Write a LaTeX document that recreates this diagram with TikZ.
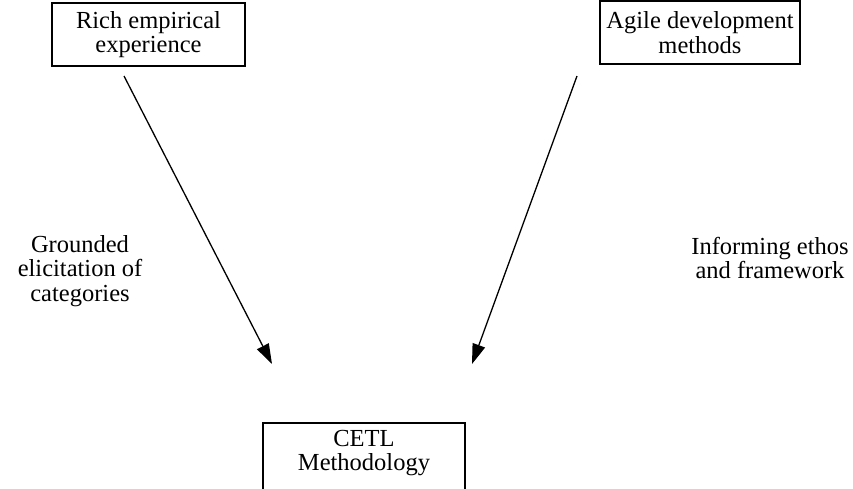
\documentclass[tikz,border=0pt]{standalone}
\usepackage{fontspec}
\setmainfont{Liberation Serif}
\usetikzlibrary{arrows.meta}
\begin{document}
\begin{tikzpicture}[x=1pt,y=-1pt,
  every node/.style={font=\fontsize{24.5}{24.5}\selectfont, align=center, inner sep=0pt},
  box/.style={draw, line width=1.5pt, minimum width=#1, minimum height=63pt},
  flow/.style={line width=1.3pt, -{Triangle[length=20pt,width=13pt]}}]
\useasboundingbox (0,0) rectangle (853,488);
% source boxes
\node[box=193pt] (rich) at (148.5,34.5) {Rich empirical\\experience};
\node[box=200pt] (agile) at (700,32.5) {Agile development\\methods};
% target box, its lower edge runs off the page
\node[draw, line width=1.5pt, minimum width=202pt, minimum height=100pt, anchor=north] (cetlbox) at (364,422) {};
\node (cetl) at (364,453) {CETL\\Methodology};
% arrow ends
\coordinate (s1) at (124,76);
\coordinate (e1) at (272,364);
\coordinate (s2) at (577,76);
\coordinate (e2) at (472,364);
\draw[flow] (s1) -- (e1);
\draw[flow] (s2) -- (e2);
% arrow labels
\node (lab1) at (80,271) {Grounded\\elicitation of\\categories};
\node (lab2) at (770,258) {Informing ethos\\and framework};
\end{tikzpicture}
\end{document}
